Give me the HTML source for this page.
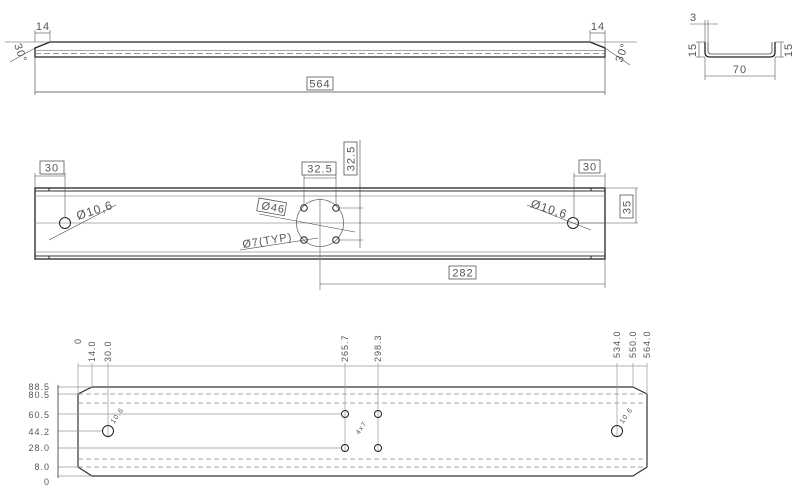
<!DOCTYPE html>
<html><head><meta charset="utf-8"><style>
html,body{margin:0;padding:0;background:#fff;}
svg{display:block;}
text{font-family:"Liberation Sans","DejaVu Sans",sans-serif;fill:#555;letter-spacing:1px;}
</style></head><body>
<svg width="800" height="499" viewBox="0 0 800 499" xmlns="http://www.w3.org/2000/svg">
<g fill="none" stroke-linecap="butt">
<!-- TOP VIEW -->
<path d="M50 42 L590 42 L605 48 L605 57 L35 57 L35 48 Z" stroke="#222" stroke-width="1.3"/>
<line x1="35" y1="50.5" x2="605" y2="50.5" stroke="#888" stroke-width="0.8"/>
<line x1="35" y1="53.5" x2="605" y2="53.5" stroke="#777" stroke-width="0.8" stroke-dasharray="6,3"/>
<line x1="35" y1="57" x2="35" y2="95" stroke="#555" stroke-width="0.7"/>
<line x1="605" y1="57" x2="605" y2="95" stroke="#555" stroke-width="0.7"/>
<line x1="35" y1="92" x2="605" y2="92" stroke="#444" stroke-width="0.7"/>
<rect x="307" y="77" width="26" height="13" stroke="#555" stroke-width="0.8"/>
<text x="320" y="87.5" font-size="11" text-anchor="middle" stroke="none">564</text>
<line x1="35" y1="30" x2="35" y2="42" stroke="#555" stroke-width="0.6"/>
<line x1="50" y1="30" x2="50" y2="42" stroke="#555" stroke-width="0.6"/>
<line x1="35" y1="33" x2="50" y2="33" stroke="#444" stroke-width="0.6"/>
<text x="43" y="30" font-size="11" text-anchor="middle" stroke="none">14</text>
<line x1="5" y1="42" x2="50" y2="42" stroke="#555" stroke-width="0.6"/>
<line x1="35" y1="48" x2="10" y2="62" stroke="#555" stroke-width="0.6"/>
<text x="14" y="45" font-size="11" transform="rotate(70 14 45)" stroke="none">30°</text>
<line x1="590" y1="30" x2="590" y2="42" stroke="#555" stroke-width="0.6"/>
<line x1="605" y1="30" x2="605" y2="57" stroke="#555" stroke-width="0.6"/>
<line x1="590" y1="33" x2="605" y2="33" stroke="#444" stroke-width="0.6"/>
<text x="598" y="30" font-size="11" text-anchor="middle" stroke="none">14</text>
<line x1="590" y1="42" x2="637" y2="42" stroke="#555" stroke-width="0.6"/>
<line x1="605" y1="48" x2="630" y2="65" stroke="#555" stroke-width="0.6"/>
<text x="622" y="63" font-size="11" transform="rotate(-70 622 63)" stroke="none">30°</text>
<!-- PROFILE -->
<path d="M705 42 L705 52 Q705 57 710 57 L770 57 Q775 57 775 52 L775 42" stroke="#222" stroke-width="1.3"/>
<path d="M708 42 L708 51 Q708 54 711 54 L769 54 Q772 54 772 51 L772 42" stroke="#444" stroke-width="0.8"/>
<line x1="705" y1="57" x2="705" y2="80" stroke="#555" stroke-width="0.6"/>
<line x1="775" y1="57" x2="775" y2="80" stroke="#555" stroke-width="0.6"/>
<line x1="705" y1="76" x2="775" y2="76" stroke="#444" stroke-width="0.6"/>
<text x="740" y="73" font-size="11" text-anchor="middle" stroke="none">70</text>
<line x1="690" y1="24" x2="718" y2="24" stroke="#555" stroke-width="0.6"/>
<line x1="705" y1="20" x2="705" y2="42" stroke="#555" stroke-width="0.6"/>
<line x1="708" y1="20" x2="708" y2="42" stroke="#555" stroke-width="0.6"/>
<text x="690" y="21" font-size="11" stroke="none">3</text>
<line x1="699" y1="42" x2="699" y2="57" stroke="#444" stroke-width="0.6"/>
<line x1="696" y1="42" x2="705" y2="42" stroke="#555" stroke-width="0.6"/>
<line x1="696" y1="57" x2="705" y2="57" stroke="#555" stroke-width="0.6"/>
<text x="696" y="50" font-size="11" text-anchor="middle" transform="rotate(-90 696 50)" stroke="none">15</text>
<line x1="781" y1="42" x2="781" y2="57" stroke="#444" stroke-width="0.6"/>
<line x1="775" y1="42" x2="784" y2="42" stroke="#555" stroke-width="0.6"/>
<line x1="775" y1="57" x2="784" y2="57" stroke="#555" stroke-width="0.6"/>
<text x="792" y="50" font-size="11" text-anchor="middle" transform="rotate(-90 792 50)" stroke="none">15</text>
<!-- MIDDLE VIEW -->
<rect x="35" y="188" width="570" height="71" stroke="#222" stroke-width="1.3"/>
<line x1="35" y1="191" x2="605" y2="191" stroke="#333" stroke-width="1"/>
<line x1="35" y1="196" x2="605" y2="196" stroke="#999" stroke-width="0.8"/>
<line x1="35" y1="223" x2="605" y2="223" stroke="#999" stroke-width="0.8"/>
<line x1="35" y1="252" x2="605" y2="252" stroke="#999" stroke-width="0.8"/>
<line x1="35" y1="256" x2="605" y2="256" stroke="#333" stroke-width="1"/>
<line x1="49" y1="188" x2="49" y2="191" stroke="#222"/><line x1="49" y1="256" x2="49" y2="259" stroke="#222"/>
<line x1="591" y1="188" x2="591" y2="191" stroke="#222"/><line x1="591" y1="256" x2="591" y2="259" stroke="#222"/>
<circle cx="65" cy="223" r="5.5" stroke="#222" stroke-width="1"/>
<circle cx="573" cy="223" r="5.5" stroke="#222" stroke-width="1"/>
<circle cx="320" cy="223" r="23.5" stroke="#666" stroke-width="0.8"/>
<line x1="320" y1="198" x2="320" y2="290" stroke="#888" stroke-width="0.8"/>
<g stroke="#222" stroke-width="1"><circle cx="304" cy="208" r="3.3"/><circle cx="336" cy="208" r="3.3"/><circle cx="304" cy="240" r="3.3"/><circle cx="336" cy="240" r="3.3"/></g>
<line x1="49" y1="240" x2="116" y2="205" stroke="#444" stroke-width="0.6"/>
<text x="78" y="220" font-size="12" transform="rotate(-18 78 220)" stroke="none">Ø10,6</text>
<line x1="527" y1="205" x2="591" y2="230" stroke="#444" stroke-width="0.6"/>
<text x="530" y="207" font-size="12" transform="rotate(18 530 207)" stroke="none">Ø10,6</text>
<line x1="259" y1="214" x2="355" y2="232" stroke="#444" stroke-width="0.6"/>
<rect x="259" y="198" width="28" height="13" transform="rotate(10 259 198)" stroke="#555" stroke-width="0.8"/>
<text x="261" y="209" font-size="11" transform="rotate(10 261 209)" stroke="none">Ø46</text>
<line x1="240" y1="250" x2="318" y2="238" stroke="#444" stroke-width="0.6"/>
<text x="243" y="248" font-size="11" transform="rotate(-9 243 248)" stroke="none">Ø7(TYP)</text>
<line x1="65" y1="173" x2="65" y2="218" stroke="#555" stroke-width="0.6"/>
<line x1="35" y1="173" x2="35" y2="188" stroke="#555" stroke-width="0.6"/>
<line x1="35" y1="176" x2="65" y2="176" stroke="#444" stroke-width="0.6"/>
<rect x="40" y="161" width="24" height="13" stroke="#555" stroke-width="0.8"/>
<text x="52" y="171.5" font-size="11" text-anchor="middle" stroke="none">30</text>
<line x1="574" y1="173" x2="574" y2="218" stroke="#555" stroke-width="0.6"/>
<line x1="605" y1="173" x2="605" y2="188" stroke="#555" stroke-width="0.6"/>
<line x1="574" y1="176" x2="605" y2="176" stroke="#444" stroke-width="0.6"/>
<rect x="579" y="160" width="21" height="13" stroke="#555" stroke-width="0.8"/>
<text x="590" y="170.5" font-size="11" text-anchor="middle" stroke="none">30</text>
<line x1="304" y1="175" x2="304" y2="205" stroke="#555" stroke-width="0.6"/>
<line x1="336" y1="175" x2="336" y2="205" stroke="#555" stroke-width="0.6"/>
<line x1="304" y1="178" x2="336" y2="178" stroke="#444" stroke-width="0.6"/>
<rect x="302" y="162" width="34" height="13" stroke="#555" stroke-width="0.8"/>
<text x="320" y="172.5" font-size="11" text-anchor="middle" stroke="none">32.5</text>
<line x1="338" y1="208" x2="363" y2="208" stroke="#555" stroke-width="0.6"/>
<line x1="338" y1="240" x2="363" y2="240" stroke="#555" stroke-width="0.6"/>
<line x1="360" y1="140" x2="360" y2="248" stroke="#444" stroke-width="0.6"/>
<rect x="344" y="142" width="13" height="33" stroke="#555" stroke-width="0.8"/>
<text x="354.5" y="158.5" font-size="11" text-anchor="middle" transform="rotate(-90 354.5 158.5)" stroke="none">32.5</text>
<line x1="605" y1="188" x2="638" y2="188" stroke="#555" stroke-width="0.6"/>
<line x1="580" y1="223" x2="638" y2="223" stroke="#555" stroke-width="0.6"/>
<line x1="636" y1="188" x2="636" y2="223" stroke="#444" stroke-width="0.6"/>
<rect x="620" y="195" width="13" height="23" stroke="#555" stroke-width="0.8"/>
<text x="630.5" y="207" font-size="11" text-anchor="middle" transform="rotate(-90 630.5 207)" stroke="none">35</text>
<line x1="605" y1="259" x2="605" y2="288" stroke="#555" stroke-width="0.6"/>
<line x1="320" y1="284" x2="605" y2="284" stroke="#444" stroke-width="0.6"/>
<rect x="449" y="266" width="27" height="13" stroke="#555" stroke-width="0.8"/>
<text x="463" y="276.5" font-size="11" text-anchor="middle" stroke="none">282</text>
<!-- BOTTOM VIEW -->
<path d="M92 387 L633 387 L647 394 L647 467 L633 476 L92 476 L78 467 L78 394 Z" stroke="#333" stroke-width="1.2"/>
<g stroke="#888" stroke-width="0.8" stroke-dasharray="5,3">
<line x1="78" y1="394" x2="647" y2="394"/><line x1="78" y1="403" x2="647" y2="403"/>
<line x1="78" y1="459" x2="647" y2="459"/><line x1="78" y1="467" x2="647" y2="467"/></g>
<line x1="78" y1="366" x2="647" y2="366" stroke="#999" stroke-width="0.7"/>
<g stroke="#999" stroke-width="0.7">
<line x1="78" y1="363" x2="78" y2="394"/><line x1="92" y1="363" x2="92" y2="387"/>
<line x1="108" y1="363" x2="108" y2="438"/><line x1="345" y1="363" x2="345" y2="452"/>
<line x1="378" y1="363" x2="378" y2="452"/><line x1="617" y1="363" x2="617" y2="438"/>
<line x1="633" y1="363" x2="633" y2="387"/><line x1="647" y1="363" x2="647" y2="394"/>
<line x1="58" y1="387" x2="92" y2="387"/><line x1="58" y1="394" x2="78" y2="394"/>
<line x1="58" y1="414" x2="342" y2="414"/><line x1="58" y1="431" x2="103" y2="431"/>
<line x1="58" y1="448" x2="342" y2="448"/><line x1="58" y1="467" x2="78" y2="467"/>
<line x1="58" y1="476" x2="92" y2="476"/>
</g>
<line x1="58" y1="385" x2="58" y2="478" stroke="#333" stroke-width="0.8"/>
<circle cx="108" cy="431" r="5.5" stroke="#222" stroke-width="1"/>
<circle cx="617" cy="431" r="5.5" stroke="#222" stroke-width="1"/>
<g stroke="#222" stroke-width="1"><circle cx="345" cy="414" r="3.5"/><circle cx="378" cy="414" r="3.5"/><circle cx="345" cy="448" r="3.5"/><circle cx="378" cy="448" r="3.5"/></g>
</g>
<g font-size="9" text-anchor="end">
<text x="50" y="390">88.5</text><text x="50" y="398">80.5</text><text x="50" y="418">60.5</text>
<text x="50" y="435">44.2</text><text x="50" y="451">28.0</text><text x="50" y="470">8.0</text><text x="50" y="485">0</text>
</g>
<g font-size="9">
<text transform="translate(81,344) rotate(-90)">0</text>
<text transform="translate(95,362) rotate(-90)">14.0</text>
<text transform="translate(111,362) rotate(-90)">30.0</text>
<text transform="translate(348,362) rotate(-90)">265.7</text>
<text transform="translate(381,362) rotate(-90)">298.3</text>
<text transform="translate(620,358) rotate(-90)">534.0</text>
<text transform="translate(636,358) rotate(-90)">550.0</text>
<text transform="translate(650,358) rotate(-90)">564.0</text>
<text font-size="7" transform="translate(114,424) rotate(-55)">10.6</text>
<text font-size="7" transform="translate(623,424) rotate(-55)">10.6</text>
<text font-size="7" transform="translate(359,435) rotate(-55)">4x7</text>
</g>
</svg>
</body></html>
